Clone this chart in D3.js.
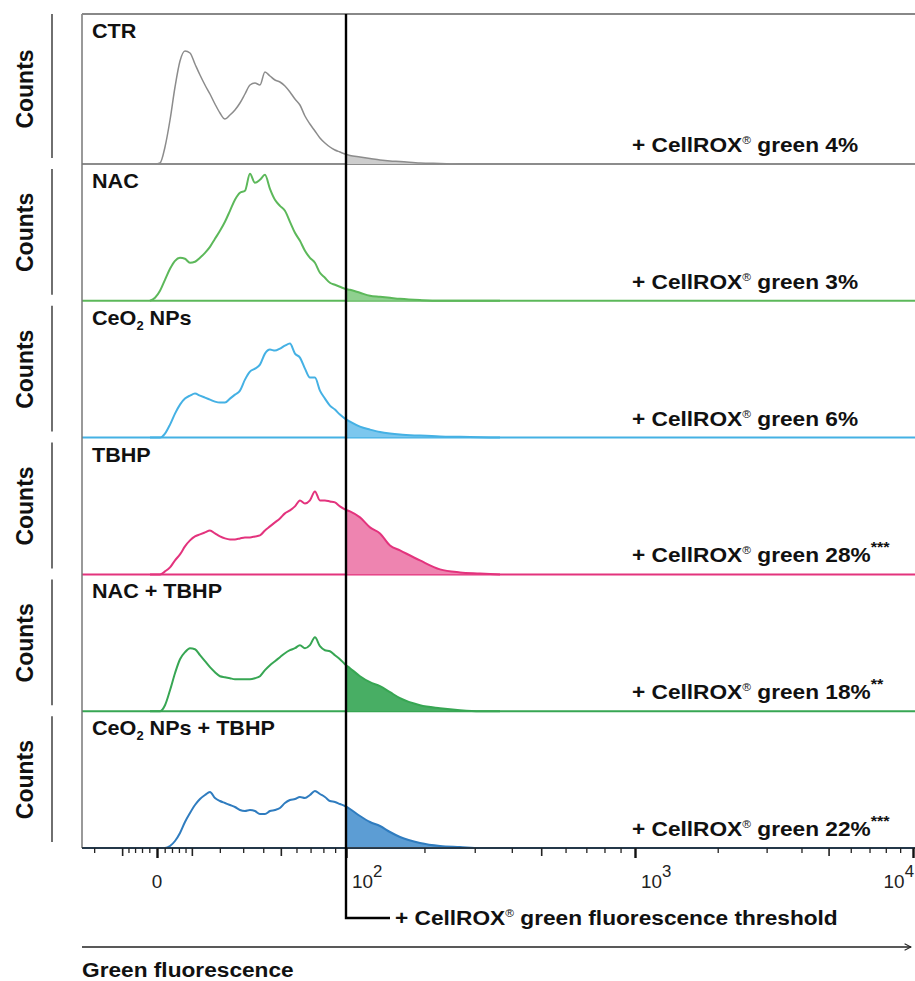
<!DOCTYPE html>
<html><head><meta charset="utf-8">
<script src="https://cdn.jsdelivr.net/npm/d3@7"></script>
<style>
body{margin:0;background:#fff;}
svg{display:block;font-family:"Liberation Sans",Arial,Helvetica,sans-serif;}
</style></head><body>
<svg id="chart" width="915" height="981"></svg>
<script>
// ---------------- DATA ----------------
const samples = ["CTR", "NAC", "CeO₂ NPs", "TBHP", "NAC + TBHP", "CeO₂ NPs + TBHP"];
const positivePct = [4, 3, 6, 28, 18, 22];
const significance = ["", "", "", "***", "**", "***"];
const thresholdValue = 100;

// fluorescence value at the centre of each histogram bin
const bins = [-1.82, -0.51, 0.77, 2.08, 3.45, 4.86, 6.32, 7.83, 9.40, 11.02,
  12.71, 14.45, 16.25, 18.12, 20.06, 22.06, 24.14, 26.29, 28.52, 30.83,
  33.22, 35.70, 38.26, 40.92, 43.67, 46.52, 49.47, 52.53, 55.70, 58.98,
  62.38, 65.90, 69.54, 73.32, 77.23, 81.28, 85.47, 89.82, 94.32, 98.98,
  103.88, 114.06, 124.98, 136.70, 149.28, 162.76, 192.75, 227.26, 266.98, 312.69, 365.30];

const countsCTR = [0,0,1,17,44,77,103,113,111,100, 89,79,70,60,51,45,49,54,61,70,
  79,81,79,92,88,84,82,78,72,65, 59,48,40,33,26,21,17,14,12,10, 8.5,7,5.5,4,3,2.5,1,0.5,0,0,0];
const countsNAC = [0,3,10,21,32,40,43,42,38,39, 43,48,54,62,70,79,90,101,108,110,
  127,118,121,126,112,101,95,90,79,68, 60,50,43,38,28,23,18,16,14,12, 11,8,5,4,3,2,0.7,0,0,0,0];
const countsCeO2 = [0,0,0,4,13,24,33,39,42,44, 42,40,38,36,35,35,39,43,47,58,
  66,69,73,84,88,87,89,92,94,84, 80,69,60,60,47,39,32,28,23,19, 16,11,8,5.5,4,3,2,1.2,0.8,0.4,0];
const countsTBHP = [0,0,0,3,7,14,20,28,34,38, 40,42,44,41,38,36,35,35,36,37,
  37,38,39,44,48,52,56,61,64,68, 74,71,74,83,74,74,73,72,68,65, 63,57,47,41,29,24,14,5,2,1,0];
const countsNACTBHP = [0,0,0,6,21,38,52,59,63,62, 56,50,44,39,35,34,33,32,32,32,
  32,33,35,41,46,50,54,58,61,63, 66,63,66,74,65,61,60,56,52,47, 43,35,29,25,19,13,6,3,1,0,0];
const countsCeO2TBHP = [0,0,0,0,2,7,15,26,35,43, 49,53,56,50,47,45,43,41,38,37,
  38,37,34,34,37,38,40,45,48,49, 51,50,53,57,54,51,47,46,44,42, 39,32,26,22,16,11,5,2,1,0,0];
const seriesCounts = [countsCTR, countsNAC, countsCeO2, countsTBHP, countsNACTBHP, countsCeO2TBHP];

const lineColors = ["#8c8c8c", "#5cb85a", "#45b1e4", "#e3337d", "#37a653", "#2f7cbf"];
const fillColors = ["#cdcdcd", "#8fd08f", "#7cc7ee", "#ee84b0", "#48ae64", "#5c9dd4"];

// axis ticks (fluorescence values)
const majorTicks = [0, 100, 1000, 10000];
const majorTickLabels = [["0", ""], ["10", "2"], ["10", "3"], ["10", "4"]];
const midTicks = [-10, 10, 50, 500, 5000];
const minorTicks = [-20, -8, -6, -4, -2, 2, 4, 6, 8, 20, 30, 40, 60, 70, 80, 90,
  200, 300, 400, 600, 700, 800, 900, 2000, 3000, 4000, 6000, 7000, 8000, 9000];

// ---------------- LAYOUT ----------------
const W = 915, H = 981;
const plotLeft = 82, plotRight = 915, plotTop = 14;
const SX = 1.08; // horizontal stretch of the text in the original
const svg = d3.select("#chart");

// logicle-like display: symlog transform, piecewise
const x = d3.scaleSymlog().constant(36)
  .domain([-25, 0, 100, 1000, 10000])
  .range([plotLeft, 157, 346, 635, 913]);
const baseY = d3.scaleLinear().domain([0, 5]).range([164, 848]);
const countH = d3.scaleLinear().domain([0, 130]).range([0, 130]);

function place(sel, px, py, sx) {
  return sel.attr("transform", `translate(${px},${py}) scale(${sx},1)`);
}

const defs = svg.append("defs");
defs.append("marker").attr("id", "arrow").attr("viewBox", "0 0 10 10")
  .attr("refX", 9).attr("refY", 5).attr("markerWidth", 8).attr("markerHeight", 8)
  .attr("markerUnits", "userSpaceOnUse").attr("orient", "auto")
  .append("path").attr("d", "M1,1 L9,5 L1,9").attr("fill", "none")
  .attr("stroke", "#222").attr("stroke-width", 1.3);

const panels = svg.append("g");
samples.forEach((name, i) => {
  const base = baseY(i);
  const top = i === 0 ? plotTop : baseY(i - 1);
  const g = panels.append("g");
  const data = bins.map((b, j) => ({ v: b, c: seriesCounts[i][j] }));

  // coloured baseline across the panel
  g.append("line").attr("x1", plotLeft).attr("x2", plotRight)
    .attr("y1", base).attr("y2", base)
    .attr("stroke", lineColors[i]).attr("stroke-width", 2);

  // filled region beyond threshold
  const clipId = "clip" + i;
  defs.append("clipPath").attr("id", clipId).append("rect")
    .attr("x", x(thresholdValue)).attr("y", top)
    .attr("width", plotRight - x(thresholdValue)).attr("height", base - top);
  const area = d3.area().x(d => x(d.v)).y0(base).y1(d => base - countH(d.c)).curve(d3.curveMonotoneX);
  g.append("path").datum(data).attr("d", area)
    .attr("fill", fillColors[i]).attr("clip-path", `url(#${clipId})`);

  const line = d3.line().x(d => x(d.v)).y(d => base - countH(d.c)).curve(d3.curveMonotoneX);
  g.append("path").datum(data).attr("d", line)
    .attr("fill", "none").attr("stroke", lineColors[i])
    .attr("stroke-width", i === 0 ? 1.5 : 2).attr("stroke-linejoin", "round");

  // sample name
  const parts = name.split("₂");
  const t = g.append("text").attr("font-weight", "bold").attr("font-size", 20).attr("fill", "#111");
  t.append("tspan").text(parts[0]);
  if (parts.length > 1) {
    t.append("tspan").attr("font-size", 12).attr("dy", 5).text("2");
    t.append("tspan").attr("dy", -5).text(parts[1]);
  }
  place(t, 92, top + 24, SX);

  // positive percentage label
  const r = g.append("text").attr("font-weight", "bold").attr("font-size", 21).attr("fill", "#111");
  r.append("tspan").text("+ CellROX");
  r.append("tspan").attr("font-size", 11).attr("dy", -8).attr("font-weight", "normal").text("®");
  r.append("tspan").attr("dy", 8).text(` green ${positivePct[i]}%`);
  if (significance[i]) r.append("tspan").attr("font-size", 15).attr("dy", -10).text(significance[i]);
  place(r, 632, base - 12, SX);

  // Counts label and bar
  g.append("line").attr("x1", 52).attr("x2", 52)
    .attr("y1", i === 0 ? plotTop : top + 5).attr("y2", base - 6)
    .attr("stroke", "#333").attr("stroke-width", 1.4);
  g.append("text").attr("font-weight", "bold").attr("font-size", 23).attr("fill", "#111")
    .attr("text-anchor", "middle")
    .attr("transform", `translate(33,${(top + base) / 2}) rotate(-90)`)
    .text("Counts");
});

// frame
svg.append("line").attr("x1", plotLeft).attr("x2", plotLeft).attr("y1", plotTop).attr("y2", baseY(5))
  .attr("stroke", "#777").attr("stroke-width", 1.5);
svg.append("line").attr("x1", plotLeft).attr("x2", plotRight).attr("y1", plotTop).attr("y2", plotTop)
  .attr("stroke", "#888").attr("stroke-width", 1.8);

// axis
const axisG = svg.append("g").attr("transform", `translate(0,${baseY(5)})`);
const inRange = v => x(v) <= plotRight;
axisG.append("g").call(d3.axisBottom(x).tickValues(minorTicks.filter(inRange)).tickSize(5).tickFormat(""))
  .call(g => g.select(".domain").remove())
  .selectAll("line").attr("stroke", "#222").attr("stroke-width", 1.3);
axisG.append("g").call(d3.axisBottom(x).tickValues(midTicks.filter(inRange)).tickSize(8).tickFormat(""))
  .call(g => g.select(".domain").remove())
  .selectAll("line").attr("stroke", "#222").attr("stroke-width", 1.6);
axisG.append("g").call(d3.axisBottom(x).tickValues(majorTicks.filter(inRange)).tickSize(10).tickFormat(""))
  .call(g => g.select(".domain").remove())
  .selectAll("line").attr("stroke", "#111").attr("stroke-width", 2.4);
axisG.append("line").attr("x1", plotLeft).attr("x2", plotRight).attr("y1", 0).attr("y2", 0)
  .attr("stroke", "#222").attr("stroke-width", 1.6);

majorTicks.forEach((v, k) => {
  const [b, e] = majorTickLabels[k];
  const t = axisG.append("text").attr("font-size", 18).attr("fill", "#222");
  t.append("tspan").text(b);
  if (e) t.append("tspan").attr("font-size", 16).attr("dy", -11).text(e);
  if (!e) {
    t.attr("text-anchor", "middle");
    place(t, x(v), 40, 1.05);
  } else {
    const w = t.node().getComputedTextLength() * 1.05;
    const px = Math.min(x(v) + 6, W - w - 1);
    place(t, px, 40, 1.05);
  }
});

// threshold line
const tx = x(thresholdValue);
svg.append("path").attr("d", `M${tx},${plotTop} V918 H390`)
  .attr("fill", "none").attr("stroke", "#000").attr("stroke-width", 2.4);
const tl = svg.append("text").attr("font-weight", "bold").attr("font-size", 21).attr("fill", "#111");
tl.append("tspan").text("+ CellROX");
tl.append("tspan").attr("font-size", 11).attr("dy", -8).attr("font-weight", "normal").text("®");
tl.append("tspan").attr("dy", 8).text(" green fluorescence threshold");
place(tl, 395, 925, SX);

// x axis title with arrow
svg.append("line").attr("x1", plotLeft).attr("x2", 911).attr("y1", 947).attr("y2", 947)
  .attr("stroke", "#222").attr("stroke-width", 1.3).attr("marker-end", "url(#arrow)");
const xt = svg.append("text").attr("font-weight", "bold").attr("font-size", 21).attr("fill", "#111")
  .text("Green fluorescence");
place(xt, plotLeft, 977, SX);
</script>
</body></html>
